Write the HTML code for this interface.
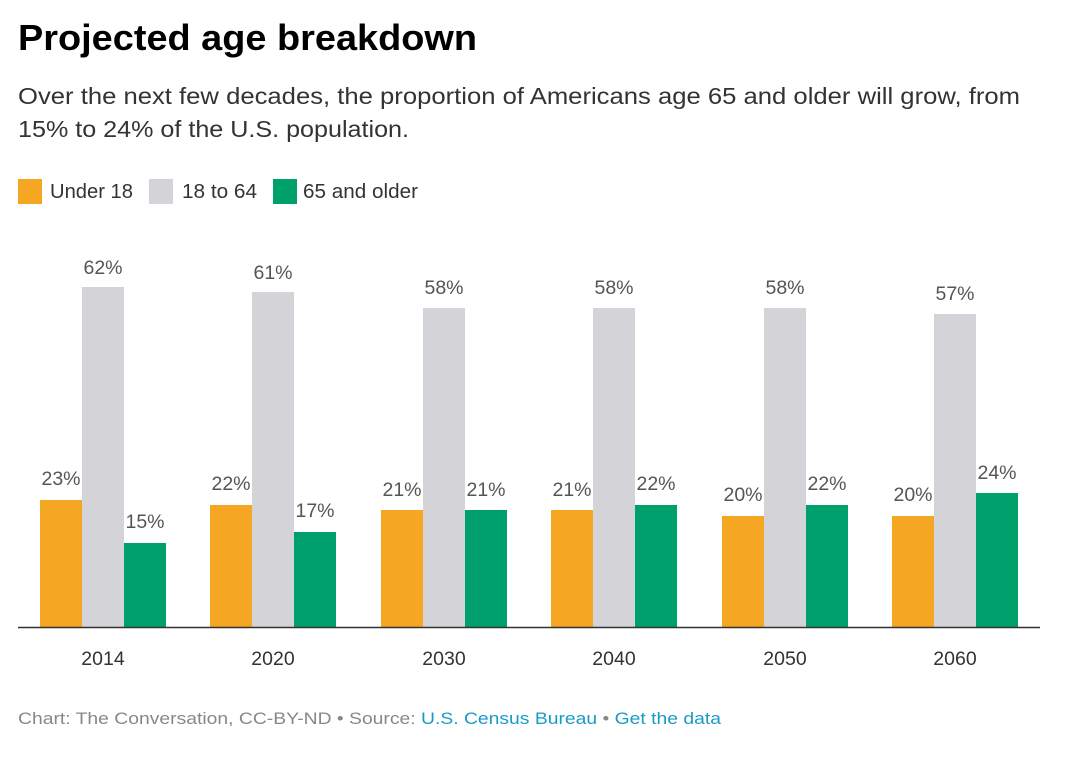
<!DOCTYPE html>
<html><head><meta charset="utf-8"><style>
html,body{margin:0;padding:0;background:#fff;width:1069px;height:769px;overflow:hidden}
svg{display:block;font-family:"Liberation Sans",Arial,sans-serif}
</style></head><body>
<svg width="1069" height="769" xmlns="http://www.w3.org/2000/svg">
<text x="18" y="50" font-size="36" font-weight="bold" fill="#000" textLength="459" lengthAdjust="spacingAndGlyphs">Projected age breakdown</text>
<text x="18" y="104" font-size="23" fill="#333" textLength="1002" lengthAdjust="spacingAndGlyphs">Over the next few decades, the proportion of Americans age 65 and older will grow, from</text>
<text x="18" y="137" font-size="23" fill="#333" textLength="391" lengthAdjust="spacingAndGlyphs">15% to 24% of the U.S. population.</text>
<rect x="18" y="179" width="24" height="25" fill="#f5a623"/>
<text x="50" y="198" font-size="20" fill="#333" textLength="83" lengthAdjust="spacingAndGlyphs">Under 18</text>
<rect x="149" y="179" width="24" height="25" fill="#d3d3d8"/>
<text x="182" y="198" font-size="20" fill="#333" textLength="75" lengthAdjust="spacingAndGlyphs">18 to 64</text>
<rect x="273" y="179" width="24" height="25" fill="#00a06c"/>
<text x="303" y="198" font-size="20" fill="#333" textLength="115" lengthAdjust="spacingAndGlyphs">65 and older</text>
<g font-size="19.5" fill="#555" text-anchor="middle">
<rect x="40" y="500" width="42" height="127" fill="#f5a623"/><text x="61" y="485">23%</text>
<rect x="82" y="287" width="42" height="340" fill="#d3d3d8"/><text x="103" y="274">62%</text>
<rect x="124" y="543" width="42" height="84" fill="#00a06c"/><text x="145" y="528">15%</text>
<text x="103" y="665" fill="#333">2014</text>
<rect x="210" y="505" width="42" height="122" fill="#f5a623"/><text x="231" y="490">22%</text>
<rect x="252" y="292" width="42" height="335" fill="#d3d3d8"/><text x="273" y="279">61%</text>
<rect x="294" y="532" width="42" height="95" fill="#00a06c"/><text x="315" y="517">17%</text>
<text x="273" y="665" fill="#333">2020</text>
<rect x="381" y="510" width="42" height="117" fill="#f5a623"/><text x="402" y="496">21%</text>
<rect x="423" y="308" width="42" height="319" fill="#d3d3d8"/><text x="444" y="294">58%</text>
<rect x="465" y="510" width="42" height="117" fill="#00a06c"/><text x="486" y="496">21%</text>
<text x="444" y="665" fill="#333">2030</text>
<rect x="551" y="510" width="42" height="117" fill="#f5a623"/><text x="572" y="496">21%</text>
<rect x="593" y="308" width="42" height="319" fill="#d3d3d8"/><text x="614" y="294">58%</text>
<rect x="635" y="505" width="42" height="122" fill="#00a06c"/><text x="656" y="490">22%</text>
<text x="614" y="665" fill="#333">2040</text>
<rect x="722" y="516" width="42" height="111" fill="#f5a623"/><text x="743" y="501">20%</text>
<rect x="764" y="308" width="42" height="319" fill="#d3d3d8"/><text x="785" y="294">58%</text>
<rect x="806" y="505" width="42" height="122" fill="#00a06c"/><text x="827" y="490">22%</text>
<text x="785" y="665" fill="#333">2050</text>
<rect x="892" y="516" width="42" height="111" fill="#f5a623"/><text x="913" y="501">20%</text>
<rect x="934" y="314" width="42" height="313" fill="#d3d3d8"/><text x="955" y="300">57%</text>
<rect x="976" y="493" width="42" height="134" fill="#00a06c"/><text x="997" y="479">24%</text>
<text x="955" y="665" fill="#333">2060</text>
</g>
<line x1="18" y1="627.5" x2="1040" y2="627.5" stroke="#333" stroke-width="1.5"/>
<text x="18" y="724" font-size="17" fill="#888" textLength="703" lengthAdjust="spacingAndGlyphs">Chart: The Conversation, CC-BY-ND • Source: <tspan fill="#1a9bc7">U.S. Census Bureau</tspan> • <tspan fill="#1a9bc7">Get the data</tspan></text>
</svg>
</body></html>
